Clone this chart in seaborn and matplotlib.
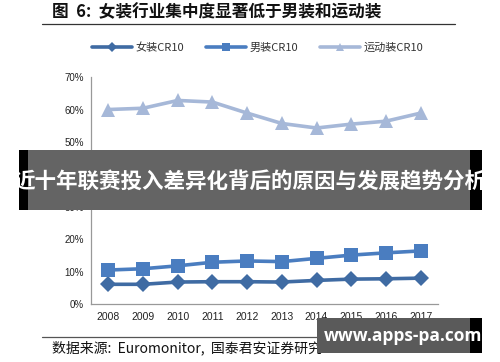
import matplotlib
matplotlib.use("Agg")
import matplotlib.pyplot as plt
import seaborn as sns
import pandas as pd
from matplotlib.patches import Rectangle
from matplotlib.lines import Line2D

years = ["2008", "2009", "2010", "2011", "2012", "2013", "2014", "2015", "2016", "2017"]
women_cr10 = [6.1, 6.1, 6.8, 6.9, 6.9, 6.8, 7.3, 7.7, 7.8, 8.0]
men_cr10 = [10.5, 10.9, 11.8, 12.9, 13.3, 13.1, 14.1, 15.1, 15.8, 16.4]
sport_cr10 = [60.0, 60.4, 62.8, 62.3, 58.9, 55.7, 54.3, 55.5, 56.4, 58.9]
series_names = ["女装CR10", "男装CR10", "运动装CR10"]
yticks = [0, 10, 20, 30, 40, 50, 60, 70]

sns.set_theme(style="white")
plt.rcParams['font.family'] = ['Noto Sans CJK SC', 'DejaVu Sans']

df = pd.concat([
    pd.DataFrame({"year": years, "value": women_cr10, "series": series_names[0]}),
    pd.DataFrame({"year": years, "value": men_cr10, "series": series_names[1]}),
    pd.DataFrame({"year": years, "value": sport_cr10, "series": series_names[2]}),
])

colors = {series_names[0]: "#3F6BA3", series_names[1]: "#4A7DC0", series_names[2]: "#A6B8D8"}
markers = {series_names[0]: "D", series_names[1]: "s", series_names[2]: "^"}
msizes = {series_names[0]: 8, series_names[1]: 10, series_names[2]: 10}

fig = plt.figure(figsize=(5.0, 3.62), dpi=100)
fig.patch.set_facecolor("white")
ax = fig.add_axes([0.182, 0.160, 0.694, 0.627])

for name in series_names:
    sub = df[df.series == name]
    sns.lineplot(data=sub, x="year", y="value", ax=ax, color=colors[name],
                 marker=markers[name], markersize=msizes[name], markeredgewidth=0,
                 linewidth=2.6, sort=False, legend=False)

ax.set_xlim(-0.5, len(years) - 0.5)
ax.set_ylim(0, 70)
ax.set_yticks(yticks)
ax.set_yticklabels([f"{v}%" for v in yticks], fontsize=7, family=['Liberation Sans'], color="#222222")
ax.set_xticks(range(len(years)))
ax.set_xticklabels(years, fontsize=7.5, family=['Liberation Sans'], color="#222222")
ax.set_xticks([i + 0.5 for i in range(-1, len(years))], minor=True)
ax.tick_params(axis="x", which="major", length=0, pad=6)
ax.tick_params(axis="x", which="minor", length=3, direction="in", color="#999999", width=0.8)
ax.tick_params(axis="y", which="major", length=3, direction="out", color="#999999", width=0.8, pad=2)
ax.set_xlabel("")
ax.set_ylabel("")
for s in ["top", "right"]:
    ax.spines[s].set_visible(False)
for s in ["left", "bottom"]:
    ax.spines[s].set_color("#999999")
    ax.spines[s].set_linewidth(0.9)

# legend
handles = [Line2D([0], [0], color=colors[n], marker=markers[n], markersize=msizes[n] * 0.6,
                  markeredgewidth=0, linewidth=2.6) for n in series_names]
fig.legend(handles, series_names, loc="center", bbox_to_anchor=(0.515, 0.867), ncol=3,
           frameon=False, fontsize=8, handlelength=3.6, columnspacing=2.0, handletextpad=0.3,
           labelcolor="#333333")

# title and rules
fig.text(0.104, 0.966, "图  6:  女装行业集中度显著低于男装和运动装", fontsize=12, fontweight="bold",
         color="#111111", va="center", ha="left")
fig.add_artist(Line2D([0.084, 0.910], [0.934, 0.934], color="#333333", linewidth=0.9))
fig.add_artist(Line2D([0.084, 0.910], [0.069, 0.069], color="#555555", linewidth=0.9))
fig.text(0.104, 0.038, "数据来源:  Euromonitor,  国泰君安证券研究", fontsize=10,
         color="#111111", va="center", ha="left")

# overlay banner
fig.add_artist(Rectangle((0.038, 1 - 210 / 362), 0.926, 60 / 362, transform=fig.transFigure,
                         facecolor="black", edgecolor="none", zorder=10))
fig.add_artist(Rectangle((0.056, 1 - 210 / 362), 0.884, 60 / 362, transform=fig.transFigure,
                         facecolor="#646464", edgecolor="none", zorder=11))
fig.text(0.5, 1 - 181 / 362, "近十年联赛投入差异化背后的原因与发展趋势分析", fontsize=15.5,
         fontweight="bold", color="white", ha="center", va="center", zorder=12)

# watermark
fig.add_artist(Rectangle((0.634, 1 - 353 / 362), 0.330, 35 / 362, transform=fig.transFigure,
                         facecolor="black", edgecolor="none", zorder=10))
fig.add_artist(Rectangle((0.634, 1 - 353 / 362), 0.306, 35 / 362, transform=fig.transFigure,
                         facecolor="#5a5a5a", edgecolor="none", zorder=11))
fig.text(0.806, 1 - 336 / 362, "www.apps-pa.com", fontsize=12.5, fontweight="bold",
         color="white", ha="center", va="center", zorder=12, family=['Open Sans', 'DejaVu Sans'])

fig.savefig("out.png", dpi=100, facecolor="white")
